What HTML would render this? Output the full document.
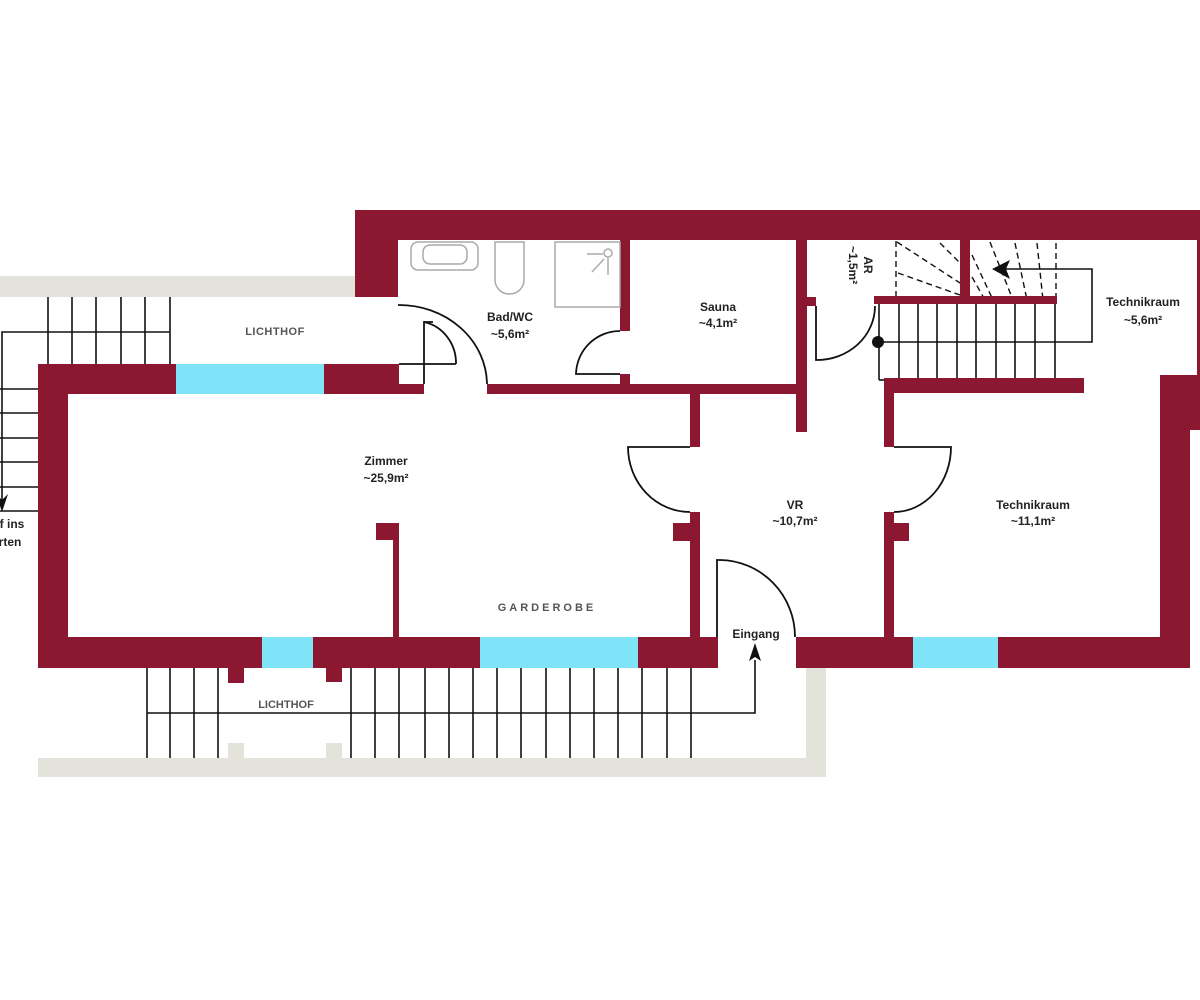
<!DOCTYPE html>
<html><head><meta charset="utf-8"><style>
html,body{margin:0;padding:0;background:#fff;}
svg{display:block;}
text{font-family:"Liberation Sans",sans-serif;font-weight:bold;font-size:12px;fill:#222;}
.g{fill:#555;font-weight:bold;}
</style></head><body>
<svg width="1200" height="1000" viewBox="0 0 1200 1000" xmlns="http://www.w3.org/2000/svg">
<rect width="1200" height="1000" fill="#fff"/>
<!-- grey bands -->
<g fill="#e3e3dc">
<rect x="0" y="276" width="355" height="21"/>
<rect x="38" y="758" width="788" height="19"/>
<rect x="806" y="668" width="20" height="109"/>
<rect x="228" y="743" width="16" height="15"/>
<rect x="326" y="743" width="16" height="15"/>
</g>
<!-- stairs lines -->
<g stroke="#111" stroke-width="1.6" fill="none">
<!-- left stairs -->
<line x1="48" y1="297" x2="48" y2="364"/><line x1="72" y1="297" x2="72" y2="364"/>
<line x1="96" y1="297" x2="96" y2="364"/><line x1="121" y1="297" x2="121" y2="364"/>
<line x1="145" y1="297" x2="145" y2="364"/><line x1="170" y1="297" x2="170" y2="364"/>
<polyline points="170,332 2,332 2,505"/>
<line x1="0" y1="389" x2="38" y2="389"/><line x1="0" y1="413" x2="38" y2="413"/>
<line x1="0" y1="438" x2="38" y2="438"/><line x1="0" y1="462" x2="38" y2="462"/>
<line x1="0" y1="487" x2="38" y2="487"/><line x1="0" y1="511" x2="38" y2="511"/>
<!-- bottom stairs -->
<line x1="147" y1="668" x2="147" y2="758"/><line x1="170" y1="668" x2="170" y2="758"/>
<line x1="194" y1="668" x2="194" y2="758"/><line x1="218" y1="668" x2="218" y2="758"/>
<line x1="351" y1="668" x2="351" y2="758"/><line x1="375" y1="668" x2="375" y2="758"/>
<line x1="399" y1="668" x2="399" y2="758"/><line x1="425" y1="668" x2="425" y2="758"/>
<line x1="449" y1="668" x2="449" y2="758"/><line x1="473" y1="668" x2="473" y2="758"/>
<line x1="497" y1="668" x2="497" y2="758"/><line x1="521" y1="668" x2="521" y2="758"/>
<line x1="546" y1="668" x2="546" y2="758"/><line x1="570" y1="668" x2="570" y2="758"/>
<line x1="594" y1="668" x2="594" y2="758"/><line x1="618" y1="668" x2="618" y2="758"/>
<line x1="642" y1="668" x2="642" y2="758"/><line x1="667" y1="668" x2="667" y2="758"/>
<line x1="691" y1="668" x2="691" y2="758"/>
<polyline points="147,713 755,713 755,660"/>
<!-- top-right stairs -->
<line x1="879" y1="304" x2="879" y2="380"/>
<line x1="899" y1="304" x2="899" y2="378"/><line x1="918" y1="304" x2="918" y2="378"/>
<line x1="937" y1="304" x2="937" y2="378"/><line x1="957" y1="304" x2="957" y2="378"/>
<line x1="976" y1="304" x2="976" y2="378"/><line x1="996" y1="304" x2="996" y2="378"/>
<line x1="1015" y1="304" x2="1015" y2="378"/><line x1="1035" y1="304" x2="1035" y2="378"/>
<line x1="1055" y1="304" x2="1055" y2="378"/>
<line x1="879" y1="380" x2="884" y2="380"/>
<polyline points="879,342 1092,342 1092,269 1005,269"/>
</g>
<g stroke="#111" stroke-width="1.4" stroke-dasharray="6,4" fill="none">
<line x1="896" y1="241" x2="896" y2="297"/>
<line x1="897" y1="242" x2="960" y2="283"/>
<line x1="940" y1="243" x2="960" y2="263"/>
<line x1="898" y1="273" x2="960" y2="295"/>
<line x1="972" y1="255" x2="993" y2="300"/>
<line x1="972" y1="277" x2="985" y2="300"/>
<line x1="990" y1="242" x2="1013" y2="300"/>
<line x1="1015" y1="243" x2="1027" y2="300"/>
<line x1="1037" y1="243" x2="1043" y2="300"/>
<line x1="1056" y1="243" x2="1056" y2="300"/>
</g>
<g fill="#111">
<polygon points="992,269 1010,260 1006,269 1010,279"/>
<circle cx="878" cy="342" r="6"/>
<polygon points="755,643 749,661 755,657 761,661"/>
<polygon points="2,512 -4,494 2,500 8,494"/>
</g>
<!-- walls -->
<g fill="#8b1730">
<rect x="355" y="210" width="845" height="30"/>
<rect x="355" y="210" width="43" height="87"/>
<rect x="38" y="364" width="138" height="30"/>
<rect x="324" y="364" width="75" height="30"/>
<rect x="399" y="384" width="25" height="10"/>
<rect x="487" y="384" width="320" height="10"/>
<rect x="38" y="364" width="30" height="304"/>
<rect x="620" y="240" width="10" height="91"/>
<rect x="620" y="374" width="10" height="10"/>
<rect x="796" y="240" width="11" height="192"/>
<rect x="806" y="297" width="10" height="9"/>
<rect x="690" y="394" width="10" height="53"/>
<rect x="690" y="512" width="10" height="125"/>
<rect x="673" y="523" width="17" height="18"/>
<rect x="874" y="296" width="183" height="8"/>
<rect x="960" y="240" width="10" height="60"/>
<rect x="884" y="378" width="200" height="15"/>
<rect x="884" y="378" width="10" height="69"/>
<rect x="884" y="512" width="10" height="125"/>
<rect x="894" y="523" width="15" height="18"/>
<rect x="393" y="523" width="6" height="114"/>
<rect x="376" y="523" width="23" height="17"/>
<rect x="1160" y="375" width="40" height="55"/>
<rect x="1160" y="375" width="30" height="293"/>
<rect x="1197" y="240" width="3" height="135"/>
<rect x="38" y="637" width="224" height="31"/>
<rect x="313" y="637" width="167" height="31"/>
<rect x="638" y="637" width="80" height="31"/>
<rect x="796" y="637" width="117" height="31"/>
<rect x="998" y="637" width="192" height="31"/>
<rect x="228" y="668" width="16" height="15"/>
<rect x="326" y="668" width="16" height="14"/>
</g>
<g fill="#80e4f8">
<rect x="176" y="364" width="148" height="30"/>
<rect x="262" y="637" width="51" height="31"/>
<rect x="480" y="637" width="158" height="31"/>
<rect x="913" y="637" width="85" height="31"/>
</g>
<!-- doors -->
<g stroke="#111" stroke-width="1.8" fill="none">
<path d="M398,305 A88,80 0 0 1 487,384"/>
<polyline points="424,384 424,322 433,322"/>
<path d="M424,322 A40,42 0 0 1 456,364"/>
<line x1="399" y1="364" x2="456" y2="364"/>
<path d="M620,331 A44,44 0 0 0 576,374 L620,374"/>
<path d="M816,306 L816,360 A58,54 0 0 0 875,306"/>
<path d="M690,447 L628,447 A62,65 0 0 0 690,512"/>
<path d="M894,447 L951,447 A57,65 0 0 1 894,512"/>
<path d="M717,637 L717,560 L720,560 A76,77 0 0 1 795,637"/>
</g>
<!-- fixtures -->
<g stroke="#aaa" stroke-width="1.5" fill="none">
<rect x="411" y="242" width="67" height="28" rx="7"/>
<rect x="423" y="245" width="44" height="19" rx="7"/>
<path d="M495,242 L524,242 L524,280 A14.5,14 0 0 1 495,280 Z"/>
<rect x="555" y="242" width="65" height="65"/>
<circle cx="608" cy="253" r="4"/>
<line x1="587" y1="254" x2="603" y2="254"/>
<line x1="592" y1="272" x2="604" y2="259"/>
<line x1="608" y1="258" x2="608" y2="275"/>
</g>
<!-- labels -->
<g text-anchor="middle">
<text class="g" x="275" y="335" style="font-size:11px;letter-spacing:0.5px">LICHTHOF</text>
<text class="g" x="286" y="708" style="font-size:11px">LICHTHOF</text>
<text class="g" x="547" y="611" style="font-size:11px;letter-spacing:3px">GARDEROBE</text>
<text x="386" y="465">Zimmer</text><text x="386" y="482">~25,9m²</text>
<text x="510" y="321">Bad/WC</text><text x="510" y="338">~5,6m²</text>
<text x="718" y="311">Sauna</text><text x="718" y="327">~4,1m²</text>
<text x="795" y="509">VR</text><text x="795" y="525">~10,7m²</text>
<text x="1033" y="509">Technikraum</text><text x="1033" y="525">~11,1m²</text>
<text x="1143" y="306">Technikraum</text><text x="1143" y="324">~5,6m²</text>
<text x="756" y="638">Eingang</text>
<text x="12" y="528">f ins</text><text x="10" y="546">rten</text>
<text transform="translate(864,265) rotate(90)" x="0" y="0">AR</text>
<text transform="translate(849,265) rotate(90)" x="0" y="0">~1,5m²</text>
</g>
</svg>
</body></html>
